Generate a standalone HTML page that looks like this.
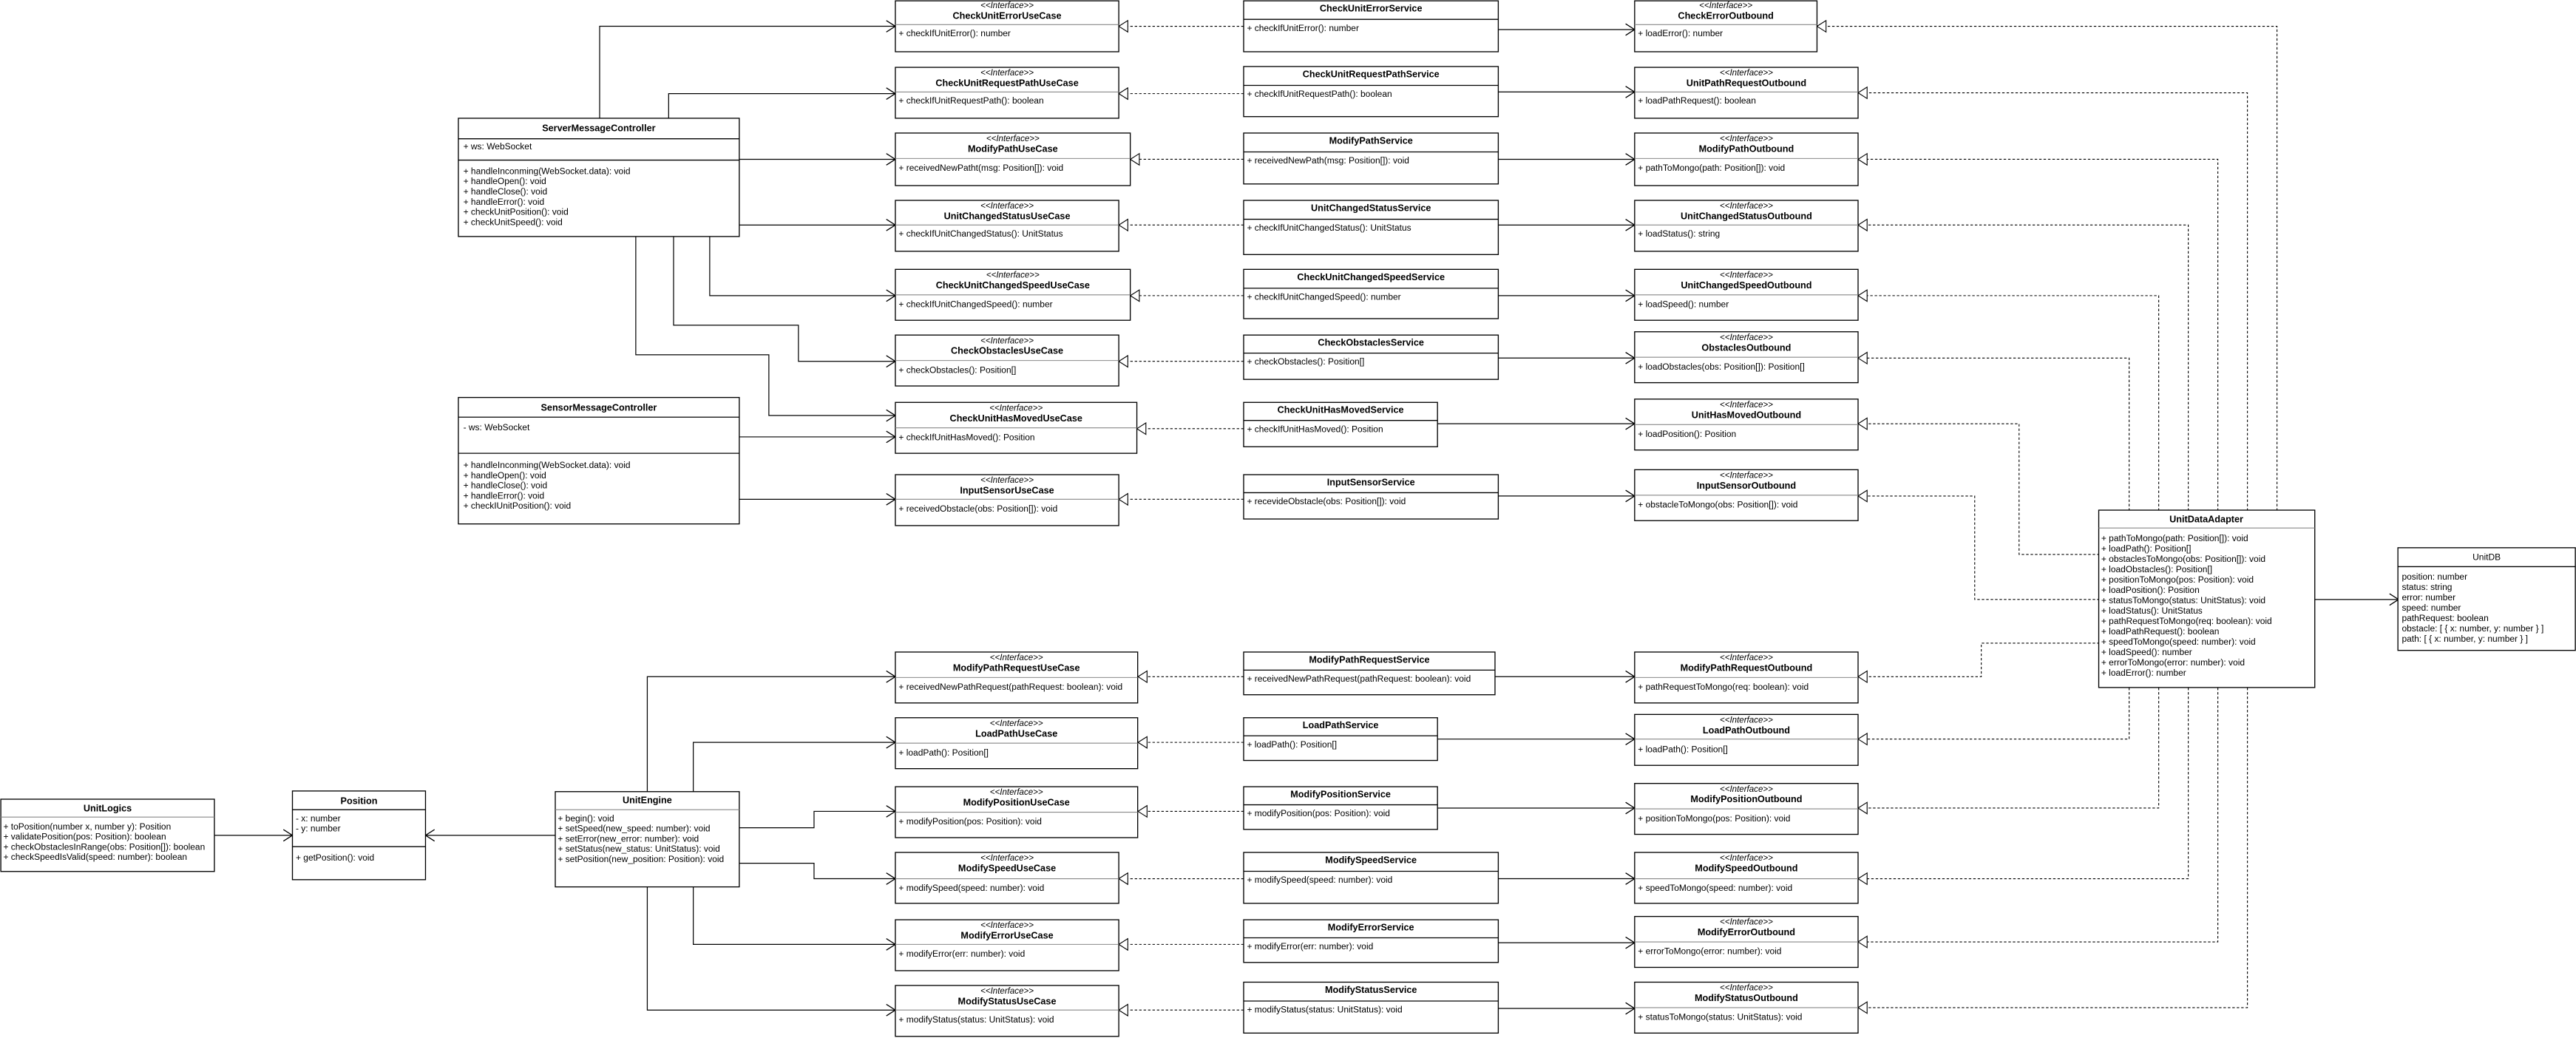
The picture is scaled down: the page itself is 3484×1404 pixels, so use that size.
<!DOCTYPE html>
<html><head><meta charset="utf-8"><style>
html,body{margin:0;padding:0;background:#fff;}
svg{display:block;}
text{font-family:"Liberation Sans",Arial,sans-serif;font-size:5.4px;fill:#000;}
.b{font-weight:bold;text-anchor:middle;font-size:5.7px;}
.s{font-style:italic;text-anchor:middle;font-size:5.2px;}
.c{text-anchor:middle;}
rect{fill:#fff;stroke:#000;stroke-width:0.6;}
.d{stroke:#888;stroke-width:0.5;}
.k{stroke:#000;stroke-width:0.6;}
.ln{fill:none;stroke:#000;stroke-width:0.55;}
.ds{fill:none;stroke:#000;stroke-width:0.5;stroke-dasharray:1.5 1.2;}
</style></head><body>
<svg width="3484" height="1404" viewBox="0 0 1568 632" preserveAspectRatio="none" xmlns="http://www.w3.org/2000/svg">
<defs>
<marker id="oa" markerUnits="userSpaceOnUse" markerWidth="8" markerHeight="10" refX="6" refY="4" orient="auto" viewBox="0 0 8 8"><path d="M0.5,0.5 L6,4 L0.5,7.5" fill="none" stroke="#000" stroke-width="0.6"/></marker>
<marker id="tr" markerUnits="userSpaceOnUse" markerWidth="8" markerHeight="10" refX="6" refY="4" orient="auto" viewBox="0 0 8 8"><path d="M0.5,0.5 L6,4 L0.5,7.5 Z" fill="#fff" stroke="#000" stroke-width="0.5"/></marker>
</defs>

<path class="ln" marker-end="url(#oa)" d="M365 72 V16 H545"/>
<path class="ln" marker-end="url(#oa)" d="M407 72 V57 H545"/>
<path class="ln" marker-end="url(#oa)" d="M450 97 H545"/>
<path class="ln" marker-end="url(#oa)" d="M450 137 H545"/>
<path class="ln" marker-end="url(#oa)" d="M432 144 V180 H545"/>
<path class="ln" marker-end="url(#oa)" d="M410 144 V198 H486 V220 H545"/>
<path class="ln" marker-end="url(#oa)" d="M387 144 V216 H468 V253 H545"/>
<path class="ln" marker-end="url(#oa)" d="M450 266 H545"/>
<path class="ln" marker-end="url(#oa)" d="M450 304 H545"/>
<path class="ln" marker-end="url(#oa)" d="M394 482 V412 H545"/>
<path class="ln" marker-end="url(#oa)" d="M422 482 V452 H545"/>
<path class="ln" marker-end="url(#oa)" d="M450 504 H495.5 V494 H545"/>
<path class="ln" marker-end="url(#oa)" d="M450 525.6 H495.5 V535 H545"/>
<path class="ln" marker-end="url(#oa)" d="M422 540 V575 H545"/>
<path class="ln" marker-end="url(#oa)" d="M394 540 V615 H545"/>
<path class="ln" marker-end="url(#oa)" d="M130.6 508.6 H178"/>
<path class="ln" marker-end="url(#oa)" d="M338 508.6 H259"/>

<path class="ds" marker-end="url(#tr)" d="M757 16 H681"/>
<path class="ds" marker-end="url(#tr)" d="M757 57 H681"/>
<path class="ds" marker-end="url(#tr)" d="M757 97 H688"/>
<path class="ds" marker-end="url(#tr)" d="M757 137 H681"/>
<path class="ds" marker-end="url(#tr)" d="M757 180 H688"/>
<path class="ds" marker-end="url(#tr)" d="M757 220 H681"/>
<path class="ds" marker-end="url(#tr)" d="M757 261 H692"/>
<path class="ds" marker-end="url(#tr)" d="M757 304 H681"/>
<path class="ds" marker-end="url(#tr)" d="M757 412 H692.7"/>
<path class="ds" marker-end="url(#tr)" d="M757 452 H692.7"/>
<path class="ds" marker-end="url(#tr)" d="M757 494 H692.7"/>
<path class="ds" marker-end="url(#tr)" d="M757 535 H681"/>
<path class="ds" marker-end="url(#tr)" d="M757 575 H681"/>
<path class="ds" marker-end="url(#tr)" d="M757 615 H681"/>

<path class="ln" marker-end="url(#oa)" d="M912 18 H995"/>
<path class="ln" marker-end="url(#oa)" d="M912 56 H995"/>
<path class="ln" marker-end="url(#oa)" d="M912 97 H995"/>
<path class="ln" marker-end="url(#oa)" d="M912 137 H995"/>
<path class="ln" marker-end="url(#oa)" d="M912 180 H995"/>
<path class="ln" marker-end="url(#oa)" d="M912 218 H995"/>
<path class="ln" marker-end="url(#oa)" d="M875 258 H995"/>
<path class="ln" marker-end="url(#oa)" d="M912 302 H995"/>
<path class="ln" marker-end="url(#oa)" d="M910 412 H995"/>
<path class="ln" marker-end="url(#oa)" d="M875 450 H995"/>
<path class="ln" marker-end="url(#oa)" d="M875 492 H995"/>
<path class="ln" marker-end="url(#oa)" d="M912 535 H995"/>
<path class="ln" marker-end="url(#oa)" d="M912 574 H995"/>
<path class="ln" marker-end="url(#oa)" d="M912 614 H995"/>

<path class="ds" marker-end="url(#tr)" d="M1386 311 V16 H1106"/>
<path class="ds" marker-end="url(#tr)" d="M1368 311 V56.5 H1131"/>
<path class="ds" marker-end="url(#tr)" d="M1350 311 V97 H1131"/>
<path class="ds" marker-end="url(#tr)" d="M1332 311 V137 H1131"/>
<path class="ds" marker-end="url(#tr)" d="M1314 311 V180 H1131"/>
<path class="ds" marker-end="url(#tr)" d="M1296 311 V218 H1131"/>
<path class="ds" marker-end="url(#tr)" d="M1278 337.6 H1229 V258 H1131"/>
<path class="ds" marker-end="url(#tr)" d="M1278 365 H1202 V302 H1131"/>
<path class="ds" marker-end="url(#tr)" d="M1278 391.6 H1206 V412 H1131"/>
<path class="ds" marker-end="url(#tr)" d="M1296 418.7 V450 H1131"/>
<path class="ds" marker-end="url(#tr)" d="M1314 418.7 V492 H1131"/>
<path class="ds" marker-end="url(#tr)" d="M1332 418.7 V535 H1131"/>
<path class="ds" marker-end="url(#tr)" d="M1350 418.7 V573.5 H1131"/>
<path class="ds" marker-end="url(#tr)" d="M1368 418.7 V613.5 H1131"/>
<path class="ln" marker-end="url(#oa)" d="M1409 365 H1460"/>

<rect x="279" y="72" width="171" height="72"/>
<text class="b" x="364.5" y="80">ServerMessageController</text>
<line class="k" x1="279" y1="84.5" x2="450" y2="84.5"/>
<text x="282" y="91">+ ws: WebSocket</text>
<line class="k" x1="279" y1="97.5" x2="450" y2="97.5"/>
<text x="282" y="106">+ handleInconming(WebSocket.data): void</text>
<text x="282" y="112.2">+ handleOpen(): void</text>
<text x="282" y="118.4">+ handleClose(): void</text>
<text x="282" y="124.6">+ handleError(): void</text>
<text x="282" y="130.8">+ checkUnitPosition(): void</text>
<text x="282" y="137">+ checkUnitSpeed(): void</text>

<rect x="279" y="242" width="171" height="77"/>
<text class="b" x="364.5" y="250">SensorMessageController</text>
<line class="k" x1="279" y1="254" x2="450" y2="254"/>
<text x="282" y="262">- ws: WebSocket</text>
<line class="k" x1="279" y1="276" x2="450" y2="276"/>
<text x="282" y="285">+ handleInconming(WebSocket.data): void</text>
<text x="282" y="291.2">+ handleOpen(): void</text>
<text x="282" y="297.4">+ handleClose(): void</text>
<text x="282" y="303.6">+ handleError(): void</text>
<text x="282" y="309.8">+ checkIUnitPosition(): void</text>

<rect x="0.5" y="486.6" width="130" height="44"/>
<text class="b" x="65.5" y="494">UnitLogics</text>
<line class="d" x1="0.5" y1="497.5" x2="130.5" y2="497.5"/>
<text x="2" y="505">+ toPosition(number x, number y): Position</text>
<text x="2" y="511.2">+ validatePosition(pos: Position): boolean</text>
<text x="2" y="517.4">+ checkObstaclesInRange(obs: Position[]): boolean</text>
<text x="2" y="523.6">+ checkSpeedIsValid(speed: number): boolean</text>

<rect x="178" y="481.6" width="81" height="54"/>
<text class="b" x="218.5" y="489.5">Position</text>
<line class="k" x1="178" y1="493" x2="259" y2="493"/>
<text x="180" y="500">- x: number</text>
<text x="180" y="506.2">- y: number</text>
<line class="k" x1="178" y1="515.5" x2="259" y2="515.5"/>
<text x="180" y="524">+ getPosition(): void</text>

<rect x="338" y="482" width="112" height="58"/>
<text class="b" x="394" y="489">UnitEngine</text>
<line class="d" x1="338" y1="493" x2="450" y2="493"/>
<text x="339.5" y="500">+ begin(): void</text>
<text x="339.5" y="506.2">+ setSpeed(new_speed: number):  void</text>
<text x="339.5" y="512.4">+ setError(new_error: number): void</text>
<text x="339.5" y="518.6">+ setStatus(new_status: UnitStatus): void</text>
<text x="339.5" y="524.8">+ setPosition(new_position: Position): void</text>

<g>
<rect x="545" y="0.5" width="136" height="31"/><text class="s" x="613" y="5">&lt;&lt;Interface&gt;&gt;</text><text class="b" x="613" y="11.5">CheckUnitErrorUseCase</text><line class="d" x1="545" y1="15" x2="681" y2="15"/><text x="547" y="22">+ checkIfUnitError(): number</text>
<rect x="545" y="41" width="136" height="31"/><text class="s" x="613" y="46">&lt;&lt;Interface&gt;&gt;</text><text class="b" x="613" y="52.5">CheckUnitRequestPathUseCase</text><line class="d" x1="545" y1="56" x2="681" y2="56"/><text x="547" y="63">+ checkIfUnitRequestPath(): boolean</text>
<rect x="545" y="81" width="143" height="32"/><text class="s" x="616.5" y="86">&lt;&lt;Interface&gt;&gt;</text><text class="b" x="616.5" y="92.5">ModifyPathUseCase</text><line class="d" x1="545" y1="96.5" x2="688" y2="96.5"/><text x="547" y="104">+ receivedNewPatht(msg: Position[]): void</text>
<rect x="545" y="122" width="136" height="31"/><text class="s" x="613" y="127">&lt;&lt;Interface&gt;&gt;</text><text class="b" x="613" y="133.5">UnitChangedStatusUseCase</text><line class="d" x1="545" y1="137" x2="681" y2="137"/><text x="547" y="144">+ checkIfUnitChangedStatus(): UnitStatus</text>
<rect x="545" y="164" width="143" height="31"/><text class="s" x="616.5" y="169">&lt;&lt;Interface&gt;&gt;</text><text class="b" x="616.5" y="175.5">CheckUnitChangedSpeedUseCase</text><line class="d" x1="545" y1="179.5" x2="688" y2="179.5"/><text x="547" y="187">+ checkIfUnitChangedSpeed(): number</text>
<rect x="545" y="204" width="136" height="31"/><text class="s" x="613" y="209">&lt;&lt;Interface&gt;&gt;</text><text class="b" x="613" y="215.5">CheckObstaclesUseCase</text><line class="d" x1="545" y1="219.5" x2="681" y2="219.5"/><text x="547" y="227">+ checkObstacles(): Position[]</text>
<rect x="545" y="245" width="147" height="31"/><text class="s" x="618.5" y="250">&lt;&lt;Interface&gt;&gt;</text><text class="b" x="618.5" y="256.5">CheckUnitHasMovedUseCase</text><line class="d" x1="545" y1="260.5" x2="692" y2="260.5"/><text x="547" y="268">+ checkIfUnitHasMoved(): Position</text>
<rect x="545" y="289" width="136" height="31"/><text class="s" x="613" y="294">&lt;&lt;Interface&gt;&gt;</text><text class="b" x="613" y="300.5">InputSensorUseCase</text><line class="d" x1="545" y1="304" x2="681" y2="304"/><text x="547" y="311.5">+ receivedObstacle(obs: Position[]): void</text>
<rect x="545" y="397" width="147.5" height="31"/><text class="s" x="618.7" y="402">&lt;&lt;Interface&gt;&gt;</text><text class="b" x="618.7" y="408.5">ModifyPathRequestUseCase</text><line class="d" x1="545" y1="412.5" x2="692.5" y2="412.5"/><text x="547" y="420">+ receivedNewPathRequest(pathRequest: boolean): void</text>
<rect x="545" y="437" width="147.5" height="31"/><text class="s" x="618.7" y="442">&lt;&lt;Interface&gt;&gt;</text><text class="b" x="618.7" y="448.5">LoadPathUseCase</text><line class="d" x1="545" y1="452.5" x2="692.5" y2="452.5"/><text x="547" y="460">+ loadPath(): Position[]</text>
<rect x="545" y="479" width="147.5" height="31"/><text class="s" x="618.7" y="484">&lt;&lt;Interface&gt;&gt;</text><text class="b" x="618.7" y="490.5">ModifyPositionUseCase</text><line class="d" x1="545" y1="494.5" x2="692.5" y2="494.5"/><text x="547" y="502">+ modifyPosition(pos: Position): void</text>
<rect x="545" y="519" width="136" height="31"/><text class="s" x="613" y="524">&lt;&lt;Interface&gt;&gt;</text><text class="b" x="613" y="530.5">ModifySpeedUseCase</text><line class="d" x1="545" y1="535" x2="681" y2="535"/><text x="547" y="542.5">+ modifySpeed(speed: number): void</text>
<rect x="545" y="560" width="136" height="31"/><text class="s" x="613" y="565">&lt;&lt;Interface&gt;&gt;</text><text class="b" x="613" y="571.5">ModifyErrorUseCase</text><line class="d" x1="545" y1="575" x2="681" y2="575"/><text x="547" y="582.5">+ modifyError(err: number): void</text>
<rect x="545" y="600" width="136" height="31"/><text class="s" x="613" y="605">&lt;&lt;Interface&gt;&gt;</text><text class="b" x="613" y="611.5">ModifyStatusUseCase</text><line class="d" x1="545" y1="615" x2="681" y2="615"/><text x="547" y="622.5">+ modifyStatus(status: UnitStatus): void</text>
</g>

<g>
<rect x="757" y="0.5" width="155" height="31"/><text class="b" x="834.5" y="7">CheckUnitErrorService</text><line class="k" x1="757" y1="11.8" x2="912" y2="11.8"/><text x="759" y="19">+ checkIfUnitError(): number</text>
<rect x="757" y="40.5" width="155" height="30.5"/><text class="b" x="834.5" y="47">CheckUnitRequestPathService</text><line class="k" x1="757" y1="52" x2="912" y2="52"/><text x="759" y="59">+ checkIfUnitRequestPath(): boolean</text>
<rect x="757" y="81" width="155" height="31"/><text class="b" x="834.5" y="87.5">ModifyPathService</text><line class="k" x1="757" y1="92.5" x2="912" y2="92.5"/><text x="759" y="99.5">+ receivedNewPath(msg: Position[]): void</text>
<rect x="757" y="122" width="155" height="33"/><text class="b" x="834.5" y="128.5">UnitChangedStatusService</text><line class="k" x1="757" y1="133.5" x2="912" y2="133.5"/><text x="759" y="140.5">+ checkIfUnitChangedStatus(): UnitStatus</text>
<rect x="757" y="164" width="155" height="30"/><text class="b" x="834.5" y="170.5">CheckUnitChangedSpeedService</text><line class="k" x1="757" y1="175.5" x2="912" y2="175.5"/><text x="759" y="182.5">+ checkIfUnitChangedSpeed(): number</text>
<rect x="757" y="204" width="155" height="27"/><text class="b" x="834.5" y="210.5">CheckObstaclesService</text><line class="k" x1="757" y1="215" x2="912" y2="215"/><text x="759" y="222">+ checkObstacles(): Position[]</text>
<rect x="757" y="245" width="118" height="27"/><text class="b" x="816" y="251.5">CheckUnitHasMovedService</text><line class="k" x1="757" y1="256" x2="875" y2="256"/><text x="759" y="263">+ checkIfUnitHasMoved(): Position</text>
<rect x="757" y="289" width="155" height="27"/><text class="b" x="834.5" y="295.5">InputSensorService</text><line class="k" x1="757" y1="300" x2="912" y2="300"/><text x="759" y="307">+ recevideObstacle(obs: Position[]): void</text>
<rect x="757" y="397" width="153" height="26"/><text class="b" x="833.5" y="403.5">ModifyPathRequestService</text><line class="k" x1="757" y1="408" x2="910" y2="408"/><text x="759" y="415">+ receivedNewPathRequest(pathRequest: boolean): void</text>
<rect x="757" y="437" width="118" height="26"/><text class="b" x="816" y="443.5">LoadPathService</text><line class="k" x1="757" y1="448" x2="875" y2="448"/><text x="759" y="455">+ loadPath(): Position[]</text>
<rect x="757" y="479" width="118" height="26"/><text class="b" x="816" y="485.5">ModifyPositionService</text><line class="k" x1="757" y1="490" x2="875" y2="490"/><text x="759" y="497">+ modifyPosition(pos: Position): void</text>
<rect x="757" y="519" width="155" height="31"/><text class="b" x="834.5" y="525.5">ModifySpeedService</text><line class="k" x1="757" y1="530.5" x2="912" y2="530.5"/><text x="759" y="537.5">+ modifySpeed(speed: number): void</text>
<rect x="757" y="560" width="155" height="26"/><text class="b" x="834.5" y="566.5">ModifyErrorService</text><line class="k" x1="757" y1="571" x2="912" y2="571"/><text x="759" y="578">+ modifyError(err: number): void</text>
<rect x="757" y="598" width="155" height="31"/><text class="b" x="834.5" y="604.5">ModifyStatusService</text><line class="k" x1="757" y1="609.5" x2="912" y2="609.5"/><text x="759" y="616.5">+ modifyStatus(status: UnitStatus): void</text>
</g>

<g>
<rect x="995" y="0.5" width="111" height="31"/><text class="s" x="1050.5" y="5">&lt;&lt;Interface&gt;&gt;</text><text class="b" x="1050.5" y="11.5">CheckErrorOutbound</text><line class="d" x1="995" y1="15" x2="1106" y2="15"/><text x="997" y="22">+ loadError(): number</text>
<rect x="995" y="41" width="136" height="31"/><text class="s" x="1063" y="46">&lt;&lt;Interface&gt;&gt;</text><text class="b" x="1063" y="52.5">UnitPathRequestOutbound</text><line class="d" x1="995" y1="56" x2="1131" y2="56"/><text x="997" y="63">+ loadPathRequest(): boolean</text>
<rect x="995" y="81" width="136" height="32"/><text class="s" x="1063" y="86">&lt;&lt;Interface&gt;&gt;</text><text class="b" x="1063" y="92.5">ModifyPathOutbound</text><line class="d" x1="995" y1="96.5" x2="1131" y2="96.5"/><text x="997" y="104">+ pathToMongo(path: Position[]): void</text>
<rect x="995" y="122" width="136" height="31"/><text class="s" x="1063" y="127">&lt;&lt;Interface&gt;&gt;</text><text class="b" x="1063" y="133.5">UnitChangedStatusOutbound</text><line class="d" x1="995" y1="137" x2="1131" y2="137"/><text x="997" y="144">+ loadStatus(): string</text>
<rect x="995" y="164" width="136" height="31"/><text class="s" x="1063" y="169">&lt;&lt;Interface&gt;&gt;</text><text class="b" x="1063" y="175.5">UnitChangedSpeedOutbound</text><line class="d" x1="995" y1="179.5" x2="1131" y2="179.5"/><text x="997" y="187">+ loadSpeed(): number</text>
<rect x="995" y="202" width="136" height="31"/><text class="s" x="1063" y="207">&lt;&lt;Interface&gt;&gt;</text><text class="b" x="1063" y="213.5">ObstaclesOutbound</text><line class="d" x1="995" y1="217.5" x2="1131" y2="217.5"/><text x="997" y="225">+ loadObstacles(obs: Position[]): Position[]</text>
<rect x="995" y="243" width="136" height="31"/><text class="s" x="1063" y="248">&lt;&lt;Interface&gt;&gt;</text><text class="b" x="1063" y="254.5">UnitHasMovedOutbound</text><line class="d" x1="995" y1="258.5" x2="1131" y2="258.5"/><text x="997" y="266">+ loadPosition(): Position</text>
<rect x="995" y="286" width="136" height="31"/><text class="s" x="1063" y="291">&lt;&lt;Interface&gt;&gt;</text><text class="b" x="1063" y="297.5">InputSensorOutbound</text><line class="d" x1="995" y1="301.5" x2="1131" y2="301.5"/><text x="997" y="309">+ obstacleToMongo(obs: Position[]): void</text>
<rect x="995" y="397" width="136" height="31"/><text class="s" x="1063" y="402">&lt;&lt;Interface&gt;&gt;</text><text class="b" x="1063" y="408.5">ModifyPathRequestOutbound</text><line class="d" x1="995" y1="412.5" x2="1131" y2="412.5"/><text x="997" y="420">+ pathRequestToMongo(req: boolean): void</text>
<rect x="995" y="435" width="136" height="31"/><text class="s" x="1063" y="440">&lt;&lt;Interface&gt;&gt;</text><text class="b" x="1063" y="446.5">LoadPathOutbound</text><line class="d" x1="995" y1="450" x2="1131" y2="450"/><text x="997" y="458">+ loadPath(): Position[]</text>
<rect x="995" y="477" width="136" height="31"/><text class="s" x="1063" y="482">&lt;&lt;Interface&gt;&gt;</text><text class="b" x="1063" y="488.5">ModifyPositionOutbound</text><line class="d" x1="995" y1="492.5" x2="1131" y2="492.5"/><text x="997" y="500">+ positionToMongo(pos: Position): void</text>
<rect x="995" y="519" width="136" height="31"/><text class="s" x="1063" y="524">&lt;&lt;Interface&gt;&gt;</text><text class="b" x="1063" y="530.5">ModifySpeedOutbound</text><line class="d" x1="995" y1="535" x2="1131" y2="535"/><text x="997" y="542.5">+ speedToMongo(speed: number): void</text>
<rect x="995" y="558" width="136" height="31"/><text class="s" x="1063" y="563">&lt;&lt;Interface&gt;&gt;</text><text class="b" x="1063" y="569.5">ModifyErrorOutbound</text><line class="d" x1="995" y1="573.5" x2="1131" y2="573.5"/><text x="997" y="581">+ errorToMongo(error: number): void</text>
<rect x="995" y="598" width="136" height="31"/><text class="s" x="1063" y="603">&lt;&lt;Interface&gt;&gt;</text><text class="b" x="1063" y="609.5">ModifyStatusOutbound</text><line class="d" x1="995" y1="613.5" x2="1131" y2="613.5"/><text x="997" y="621">+ statusToMongo(status: UnitStatus): void</text>
</g>

<rect x="1277.5" y="310.6" width="131.5" height="108"/>
<text class="b" x="1343" y="318">UnitDataAdapter</text>
<line class="d" x1="1277.5" y1="321.5" x2="1409" y2="321.5"/>
<text x="1279" y="329.5">+ pathToMongo(path: Position[]): void</text>
<text x="1279" y="335.8">+ loadPath(): Position[]</text>
<text x="1279" y="342.1">+ obstaclesToMongo(obs: Position[]): void</text>
<text x="1279" y="348.4">+ loadObstacles(): Position[]</text>
<text x="1279" y="354.7">+ positionToMongo(pos: Position): void</text>
<text x="1279" y="361">+ loadPosition(): Position</text>
<text x="1279" y="367.3">+ statusToMongo(status: UnitStatus): void</text>
<text x="1279" y="373.6">+ loadStatus(): UnitStatus</text>
<text x="1279" y="379.9">+ pathRequestToMongo(req: boolean): void</text>
<text x="1279" y="386.2">+ loadPathRequest(): boolean</text>
<text x="1279" y="392.5">+ speedToMongo(speed: number): void</text>
<text x="1279" y="398.8">+ loadSpeed(): number</text>
<text x="1279" y="405.1">+ errorToMongo(error: number): void</text>
<text x="1279" y="411.4">+ loadError(): number</text>

<rect x="1459.6" y="333.5" width="108" height="62.5"/>
<text class="c" x="1513.6" y="341">UnitDB</text>
<line class="k" x1="1459.6" y1="345" x2="1567.6" y2="345"/>
<text x="1462" y="353">position: number</text>
<text x="1462" y="359.3">status: string</text>
<text x="1462" y="365.6">error: number</text>
<text x="1462" y="371.9">speed: number</text>
<text x="1462" y="378.2">pathRequest: boolean</text>
<text x="1462" y="384.5">obstacle: [ { x: number, y: number  } ]</text>
<text x="1462" y="390.8">path: [ { x: number, y: number  } ]</text>
</svg>
</body></html>
